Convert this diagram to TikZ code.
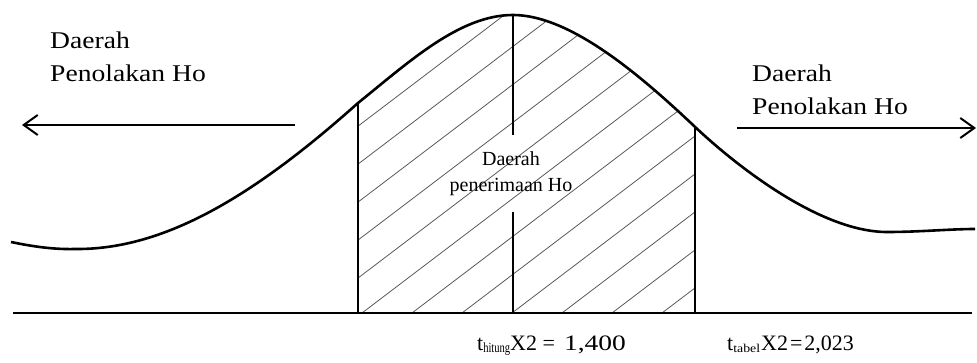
\documentclass[tikz,border=0pt]{standalone}
\usepackage{fontspec}
\setmainfont{Liberation Serif}
\newfontfamily\widefont[FakeStretch=1.15]{Liberation Serif}
\newfontfamily\xwidefont[FakeStretch=1.25]{Liberation Serif}
\newfontfamily\thinfont[FakeStretch=0.75]{Liberation Serif}
\usetikzlibrary{arrows.meta}

\tikzset{
  sidelabel/.style={font=\widefont\fontsize{24}{33}\selectfont, inner sep=0pt, anchor=base west},
  midlabel/.style={font=\fontsize{20}{26}\selectfont, inner sep=0pt, anchor=base},
  tlabel/.style={font=\fontsize{22}{26}\selectfont, inner sep=0pt, anchor=base west},
  bell/.style={line width=2.6pt},
  axisline/.style={line width=2.4pt},
  border/.style={line width=2pt},
  hatch/.style={line width=0.8pt, black!65},
  bigarrow/.style={line width=2pt, -{Straight Barb[length=14pt,width=20pt,line width=2pt]}}
}

% curve of the distribution (pixel coordinates, y downwards)
\def\bellcurve{(11,242) .. controls (35,247) and (55,249.5) .. (75,249)
  .. controls (165,250) and (255,195) .. (358,103)
  .. controls (410,61) and (460,15) .. (513,15)
  .. controls (570,15) and (640,75) .. (693,125)
  .. controls (735,165) and (820,232) .. (887,232)
  .. controls (920,232) and (950,229) .. (975,229)}

\begin{document}
\begin{tikzpicture}[x=1pt, y=-1pt]
  \useasboundingbox (0,0) rectangle (977,363);

  % acceptance region hatching
  \begin{scope}
    \clip (358,313) rectangle (695,0);
    \clip \bellcurve -- (975,313) -- (11,313) -- cycle;
    \foreach \k in {-8,...,7}
      \draw[hatch] (362+50*\k,313) -- ++(420,-319);
  \end{scope}

  \draw[bell] \bellcurve;

  % axis and borders
  \coordinate (axisL) at (13,313);
  \coordinate (axisR) at (972,313);
  \draw[axisline] (axisL) -- (axisR);

  \coordinate (lowtop) at (358,103);
  \coordinate (lowbot) at (358,313);
  \coordinate (uptop) at (695,127);
  \coordinate (upbot) at (695,313);
  \draw[border] (lowtop) -- (lowbot);
  \draw[border] (uptop) -- (upbot);

  \node[midlabel] (accA) at (511,166) {Daerah};
  \node[midlabel] (accB) at (511,192) {penerimaan Ho};
  \coordinate (peak) at (513,15);
  \coordinate (midbot) at (513,313);
  \draw[border] (peak) -- (513,135);
  \draw[border] (513,212) -- (midbot);

  % rejection regions
  \node[sidelabel] (rejLA) at (50,49) {Daerah};
  \node[sidelabel] (rejLB) at (50,82) {Penolakan Ho};
  \coordinate (larrowS) at (295,125);
  \coordinate (larrowE) at (22,125);
  \draw[bigarrow] (larrowS) -- (larrowE);

  \node[sidelabel] (rejRA) at (752,82) {Daerah};
  \node[sidelabel] (rejRB) at (752,115) {Penolakan Ho};
  \coordinate (rarrowS) at (737,128);
  \coordinate (rarrowE) at (976,128);
  \draw[bigarrow] (rarrowS) -- (rarrowE);

  % test values
  \node[tlabel] (hitung) at (477,350)
    {t\raisebox{-2pt}{\thinfont\fontsize{14}{14}\selectfont hitung}X2 = \,{\xwidefont 1,400}};
  \node[tlabel] (tabel) at (727,350)
    {t\raisebox{-2pt}{\widefont\fontsize{12}{12}\selectfont tabel}\hspace{1pt}X2\hspace{2pt}=\hspace{2pt}2,023};
\end{tikzpicture}
\end{document}
